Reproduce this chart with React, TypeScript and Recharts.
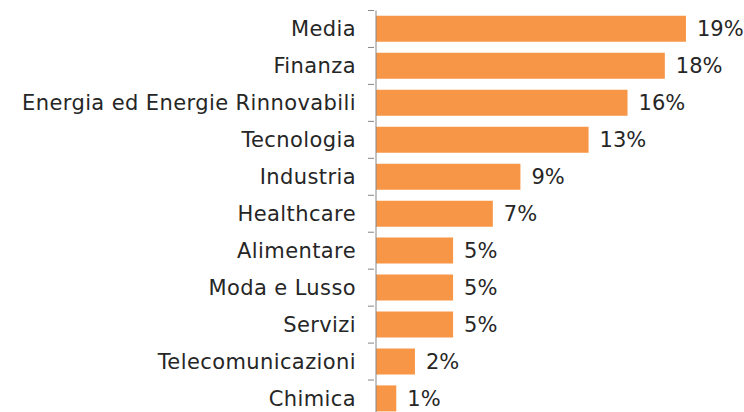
import { BarChart, Bar, XAxis, YAxis, LabelList } from "recharts"

const sectors = [
  "Media",
  "Finanza",
  "Energia ed Energie Rinnovabili",
  "Tecnologia",
  "Industria",
  "Healthcare",
  "Alimentare",
  "Moda e Lusso",
  "Servizi",
  "Telecomunicazioni",
  "Chimica",
]

// share of deals per sector (%)
const shares = [19.1, 17.8, 15.5, 13.1, 8.9, 7.2, 4.75, 4.75, 4.75, 2.4, 1.25]

const data = sectors.map((name, i) => ({ name, value: shares[i] }))

const FONT = "'DejaVu Sans', sans-serif"
const TEXT = "#262626"
const AXIS = "#868686"
const BAND = (417 - 10.5) / sectors.length

function SectorTick(props: any) {
  const { x, y, payload } = props
  return (
    <g>
      <line x1={x} x2={x + 6} y1={y - BAND / 2} y2={y - BAND / 2} stroke={AXIS} strokeWidth={1} />
      <text
        x={x - 12}
        y={y}
        dy="0.35em"
        textAnchor="end"
        fill={TEXT}
        fontSize={21}
        letterSpacing={0.4}
        fontFamily={FONT}
      >
        {payload.value}
      </text>
    </g>
  )
}

export default function App() {
  return (
    <div style={{ position: "absolute", left: 0, top: 0, width: 744, height: 412, overflow: "hidden", background: "#fff" }}>
      <BarChart
        width={744}
        height={417}
        data={data}
        layout="vertical"
        margin={{ top: 10.5, right: 11, bottom: 0, left: 0 }}
        barCategoryGap="14.5%"
      >
        <XAxis type="number" domain={[0, 22]} hide />
        <YAxis
          type="category"
          dataKey="name"
          width={376}
          axisLine={{ stroke: AXIS, strokeWidth: 1 }}
          tickLine={false}
          tick={<SectorTick />}
          interval={0}
        />
        <Bar dataKey="value" fill="#F79646" isAnimationActive={false}>
          <LabelList
            dataKey="value"
            position="right"
            offset={11}
            formatter={(v: any) => `${Math.round(Number(v))}%`}
            style={{ fill: TEXT, fontSize: 21, fontFamily: FONT }}
          />
        </Bar>
      </BarChart>
    </div>
  )
}
